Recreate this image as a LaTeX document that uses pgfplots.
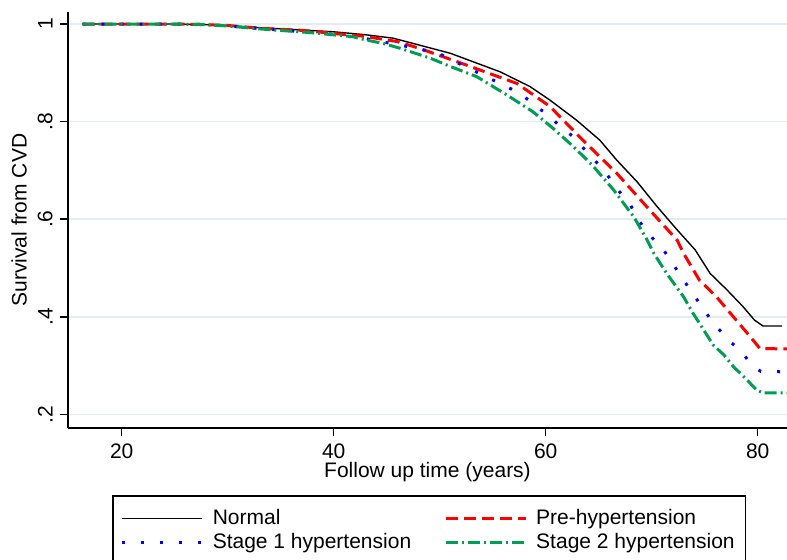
\documentclass[border=0pt]{standalone}
\usepackage{pgfplots}
\pgfplotsset{compat=1.18}
\usepackage{fontspec}
\setmainfont{Liberation Sans}
\definecolor{gridc}{RGB}{226,236,242}
\definecolor{sgreen}{RGB}{0,158,82}
\definecolor{sblue}{RGB}{0,0,255}
\definecolor{sred}{RGB}{255,0,0}
\newcommand{\fs}{\fontsize{10.5}{12.6}\selectfont}
\begin{document}
\fs
\begin{tikzpicture}
\begin{axis}[
 scale only axis, width=359.5pt, height=208pt,
 xmin=14.93, xmax=82.76, ymin=0.172, ymax=1.0246,
 axis x line=bottom, axis y line=left,
 axis line style={-, line width=0.75pt, black},
 xtick={20,40,60,80}, ytick={0.2,0.4,0.6,0.8,1}, yticklabels={.2,.4,.6,.8,1},
 tick align=outside, major tick length=4pt, tick style={line width=0.75pt, black},
 ymajorgrids, grid style={gridc, line width=0.8pt},
 /pgf/number format/assume math mode=true,
 ticklabel style={font=\fs},
 yticklabel style={rotate=90, anchor=south},
 xlabel={Follow up time (years)}, ylabel={Survival from CVD},
 label style={font=\fs},
 xlabel style={at={(axis description cs:0.5,-0.107)}, anchor=center},
 ylabel style={at={(axis description cs:-0.0681,0.5)}, anchor=center},
 legend columns=2,
 legend style={at={(0.0612,-0.162)}, anchor=north west, draw=black, line width=0.75pt,
   font=\fs, cells={anchor=west}, nodes={inner sep=1.5pt},
   /tikz/every odd column/.append style={column sep=3pt},
   /tikz/every even column/.append style={column sep=15pt},
   inner xsep=4pt, inner ysep=5pt},
 legend image code/.code={\draw[#1] (0pt,0pt) -- (40pt,0pt);},
]
\addplot[black, line width=0.7pt] coordinates {
(16.3,1) (25,1) (27.4,0.999) (30,0.997) (33.3,0.992) (36,0.989) (40,0.984) (43,0.978)
(45.6,0.971) (46.3,0.967) (51,0.940) (55.7,0.902) (58.5,0.872) (60.4,0.844) (62.9,0.803)
(65.1,0.762) (66.7,0.721) (68.6,0.677) (70.5,0.626) (72.4,0.578) (74.1,0.537) (75.5,0.489)
(77.1,0.455) (78.6,0.421) (79.7,0.393) (80.5,0.381) (82.3,0.381)};
\addlegendentry{Normal}
\addplot[sred, line width=1.5pt, dash pattern=on 6pt off 3pt] coordinates {
(16.3,1) (25,1) (27.4,0.999) (30,0.997) (33.3,0.991) (37,0.987) (40.3,0.980) (42.8,0.975)
(46,0.964) (48.1,0.950) (52.5,0.916) (57.3,0.878) (60.4,0.831) (63.5,0.762) (66.7,0.694)
(69.8,0.619) (72.4,0.557) (73,0.530) (74.5,0.475) (76.1,0.441) (77.7,0.400) (79.3,0.359)
(80.2,0.335) (82.8,0.334)};
\addlegendentry{Pre-hypertension}
\addplot[sblue, line width=1.5pt, dash pattern=on 1.5pt off 8pt] coordinates {
(16.3,1) (25,1) (27.4,0.999) (30,0.996) (33,0.991) (37.1,0.984) (39.2,0.981) (43,0.970)
(46.9,0.954) (49.9,0.940) (50.8,0.930) (52.1,0.916) (54,0.896) (57.3,0.861) (58.4,0.844)
(59.3,0.827) (60.1,0.817) (61.3,0.791) (62.6,0.769) (63.4,0.749) (64.2,0.732) (65,0.711)
(65.8,0.691) (66.7,0.663) (68,0.629) (68.6,0.602) (69.2,0.585) (70.6,0.547) (71.3,0.531)
(73.1,0.472) (74.4,0.431) (75.8,0.387) (77.4,0.349) (78.3,0.332) (79.1,0.311) (79.9,0.293)
(80.3,0.288) (82.8,0.287)};
\addlegendentry{Stage 1 hypertension}
\addplot[sgreen, line width=1.5pt, dash pattern=on 6pt off 2pt on 1pt off 2pt] coordinates {
(16.3,1) (25,1) (27.4,0.999) (30,0.996) (33,0.990) (38,0.982) (41.8,0.974) (43.1,0.967)
(44.7,0.960) (46.3,0.950) (49.1,0.930) (51,0.913) (53.5,0.892) (56.3,0.855) (58.8,0.820)
(60.7,0.786) (62.6,0.749) (64.5,0.708) (66.4,0.660) (68.3,0.605) (69.5,0.560) (70.2,0.530)
(71.4,0.489) (73,0.441) (73.9,0.407) (74.9,0.373) (75.8,0.342) (76.8,0.322) (77.7,0.298)
(79,0.270) (79.9,0.250) (80.5,0.244) (82.8,0.244)};
\addlegendentry{Stage 2 hypertension}
\coordinate (o) at (rel axis cs:0,0);
\end{axis}
\pgfresetboundingbox
\path ([shift={(-34pt,-65.5pt)}]o) rectangle ([shift={(359.5pt,214pt)}]o);
\end{tikzpicture}
\end{document}
